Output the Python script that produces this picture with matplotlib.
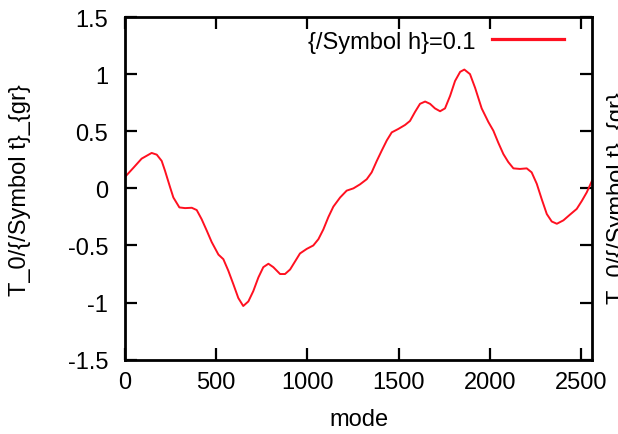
import matplotlib

matplotlib.use("Agg")
import matplotlib.pyplot as plt

# values
MODE = [0, 46, 91, 146, 174, 201, 219, 247, 265, 298, 329, 366, 393, 420, 448,
        475, 512, 539, 566, 594, 621, 648, 676, 703, 731, 758, 786, 813, 850,
        877, 905, 932, 959, 996, 1032, 1060, 1087, 1115, 1142, 1179, 1215,
        1252, 1288, 1325, 1352, 1380, 1407, 1435, 1462, 1498, 1535, 1562,
        1590, 1617, 1645, 1672, 1699, 1727, 1754, 1782, 1809, 1837, 1860,
        1891, 1919, 1955, 1992, 2019, 2046, 2074, 2101, 2129, 2165, 2202,
        2229, 2257, 2284, 2312, 2339, 2367, 2403, 2439, 2476, 2504, 2531, 2560]
T_RATIO = [0.10, 0.18, 0.26, 0.31, 0.295, 0.24, 0.155, 0.01, -0.08, -0.167,
           -0.173, -0.17, -0.19, -0.27, -0.37, -0.47, -0.58, -0.62, -0.72,
           -0.84, -0.96, -1.03, -0.99, -0.90, -0.78, -0.69, -0.66, -0.69,
           -0.75, -0.75, -0.71, -0.64, -0.57, -0.53, -0.50, -0.445, -0.36,
           -0.25, -0.16, -0.08, -0.02, 0.0, 0.035, 0.08, 0.14, 0.24, 0.33,
           0.42, 0.49, 0.52, 0.555, 0.59, 0.67, 0.74, 0.76, 0.74, 0.70, 0.675,
           0.70, 0.81, 0.94, 1.02, 1.04, 1.00, 0.88, 0.70, 0.58, 0.505, 0.40,
           0.30, 0.23, 0.175, 0.17, 0.175, 0.14, 0.04, -0.094, -0.225, -0.29,
           -0.31, -0.28, -0.23, -0.18, -0.11, -0.035, 0.067]

XTICKS = [0, 500, 1000, 1500, 2000, 2500]
XTICK_LABELS = ["0", "500", "1000", "1500", "2000", "2500"]
YTICKS = [-1.5, -1.0, -0.5, 0.0, 0.5, 1.0, 1.5]
YTICK_LABELS = ["-1.5", "-1", "-0.5", "0", "0.5", "1", "1.5"]

SERIES_LABEL = "{/Symbol h}=0.1"
YLABEL = "T_0/{/Symbol t}_{gr}"
XLABEL = "mode"

RED = "#ff1020"

plt.rcParams.update({
    "font.family": "Liberation Sans",
    "font.size": 17,
})

fig = plt.figure(figsize=(6.18, 4.35), dpi=100)
ax = fig.add_axes([0.2023, 0.1708, 0.7557, 0.7878])

ax.plot(MODE, T_RATIO, color=RED, lw=1.4, label=SERIES_LABEL)

ax.set_xlim(0, 2560)
ax.set_ylim(-1.5, 1.5)
ax.set_xticks(XTICKS, labels=XTICK_LABELS)
ax.set_yticks(YTICKS, labels=YTICK_LABELS)

for s in ax.spines.values():
    s.set_linewidth(2.0)
ax.tick_params(direction="in", length=8.5, width=1.6, top=True, right=True,
               colors="black")
ax.tick_params(axis="x", pad=8)
ax.tick_params(axis="y", pad=12)

ax.set_xlabel(XLABEL)
ax.xaxis.set_label_coords(0.5, -0.172)
ax.xaxis.label.set_va("center")

# gnuplot style y label on both sides (right one runs off the canvas)
fig.text(0.0146, 0.563, YLABEL, rotation=90, ha="left", va="center")
fig.text(0.9822, 0.545, YLABEL, rotation=90, ha="left", va="center")

leg = ax.legend(loc="center right", bbox_to_anchor=(0.940, 0.928),
                frameon=False, markerfirst=False, handlelength=3.05,
                handletextpad=0.72, borderpad=0, borderaxespad=0)
for ln in leg.get_lines():
    ln.set_linewidth(2.3)

fig.savefig("out.png", dpi=100)
